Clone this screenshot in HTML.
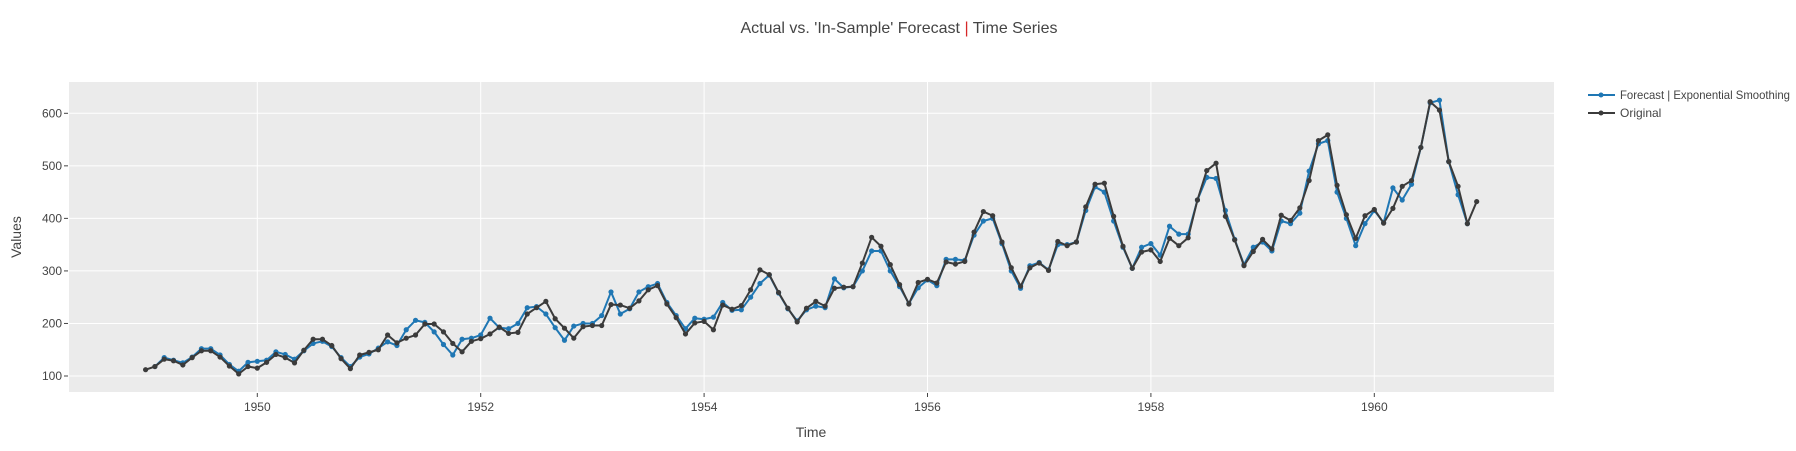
<!DOCTYPE html>
<html><head><meta charset="utf-8">
<style>
body{margin:0;background:#fff;font-family:"Liberation Sans",sans-serif;}
svg text{font-family:"Liberation Sans",sans-serif;fill:#444;}
</style></head>
<body>
<svg id="chart" width="1796" height="446">
<rect x="69" y="82" width="1485" height="310" fill="#ebebeb"/>
<g id="grid"></g>
<g id="series"></g>
<g id="axes"></g>
<text x="899" y="33" text-anchor="middle" font-size="16">Actual vs. 'In-Sample' Forecast <tspan fill="#d62728">|</tspan> Time Series</text>
<text x="811" y="437" text-anchor="middle" font-size="14">Time</text>
<text transform="translate(21,237) rotate(-90)" text-anchor="middle" font-size="14">Values</text>
<g>
<g>
<line x1="1588" y1="95" x2="1615" y2="95" stroke="#1f77b4" stroke-width="2"/>
<circle cx="1601" cy="95" r="2.5" fill="#1f77b4"/>
<text x="1620" y="99" font-size="12" textLength="170" lengthAdjust="spacingAndGlyphs">Forecast | Exponential Smoothing</text>
</g>
<g>
<line x1="1588" y1="113" x2="1615" y2="113" stroke="#3b3b3b" stroke-width="2"/>
<circle cx="1601" cy="113" r="2.5" fill="#3b3b3b"/>
<text x="1620" y="117" font-size="12">Original</text>
</g>
</g>
</svg>
<script>
const original = [
112,118,132,129,121,135,148,148,136,119,104,118,
115,126,141,135,125,149,170,170,158,133,114,140,
145,150,178,163,172,178,199,199,184,162,146,166,
171,180,193,181,183,218,230,242,209,191,172,194,
196,196,236,235,229,243,264,272,237,211,180,201,
204,188,235,227,234,264,302,293,259,229,203,229,
242,233,267,269,270,315,364,347,312,274,237,278,
284,277,317,313,318,374,413,405,355,306,271,306,
315,301,356,348,355,422,465,467,404,347,305,336,
340,318,362,348,363,435,491,505,404,359,310,337,
360,342,406,396,420,472,548,559,463,407,362,405,
417,391,419,461,472,535,622,606,508,461,390,432];
const forecast = [
118,135,130,125,136,152,152,140,122,109,126,
128,130,146,141,132,148,162,166,156,135,118,136,
142,153,165,158,188,206,202,184,160,140,170,172,
178,210,192,190,200,230,232,218,192,168,195,200,
200,215,260,218,228,260,270,276,240,215,190,210,
208,212,240,225,226,250,276,292,258,228,205,226,
233,230,285,268,270,300,338,338,300,270,238,268,
283,272,322,322,320,368,395,400,352,300,267,310,
316,302,350,350,355,415,460,450,395,345,305,345,
352,330,385,370,370,435,478,476,415,360,312,345,
355,338,395,390,410,490,542,548,450,400,348,390,
415,392,458,435,465,535,620,625,508,445,390];
const yTicks = [100,200,300,400,500,600];
const xTicks = [1950,1952,1954,1956,1958,1960];
const startYear = 1949;

const NS="http://www.w3.org/2000/svg";
const X0=69,X1=1554,Y0=82,Y1=392;
function xs(t){return 257.3+(t-1950)*111.7;}
function ys(v){return 376-(v-100)*0.5254;}
function mk(tag,attrs,parent){const e=document.createElementNS(NS,tag);for(const k in attrs)e.setAttribute(k,attrs[k]);parent.appendChild(e);return e;}
const grid=document.getElementById('grid'),axes=document.getElementById('axes'),ser=document.getElementById('series');
yTicks.forEach(v=>{
  const l=mk('line',{x1:X0,x2:X1,y1:ys(v),y2:ys(v),stroke:'#fff','stroke-width':1},grid);
  
  
  mk('line',{x1:X0-5,x2:X0-1,y1:ys(v),y2:ys(v),stroke:'#444'},axes);
  const t=mk('text',{x:X0-7,y:ys(v)+4,'text-anchor':'end','font-size':12},axes);
  t.textContent=v;
  
  
});
xTicks.forEach(v=>{
  const l=mk('line',{x1:xs(v),x2:xs(v),y1:Y0,y2:Y1,stroke:'#fff','stroke-width':1},grid);
  
  
  mk('line',{x1:xs(v),x2:xs(v),y1:Y1+1,y2:Y1+5,stroke:'#444'},axes);
  const t=mk('text',{x:xs(v),y:411,'text-anchor':'middle','font-size':12},axes);
  t.textContent=v;
  
  
});
function draw(vals,offset,color,name){
  const g=mk('g',{},ser);
  
  
  const pts=vals.map((v,i)=>[xs(startYear+(i+offset)/12),ys(v)]);
  mk('polyline',{points:pts.map(p=>p.join(',')).join(' '),fill:'none',stroke:color,'stroke-width':2,'stroke-linejoin':'round'},g);
  pts.forEach(p=>{
    const c=mk('circle',{cx:p[0],cy:p[1],r:2.6,fill:color},g);
    
    
  });
}
draw(forecast,1,'#1f77b4','forecast-line');
draw(original,0,'#3b3b3b','original-line');
</script>
</body></html>
